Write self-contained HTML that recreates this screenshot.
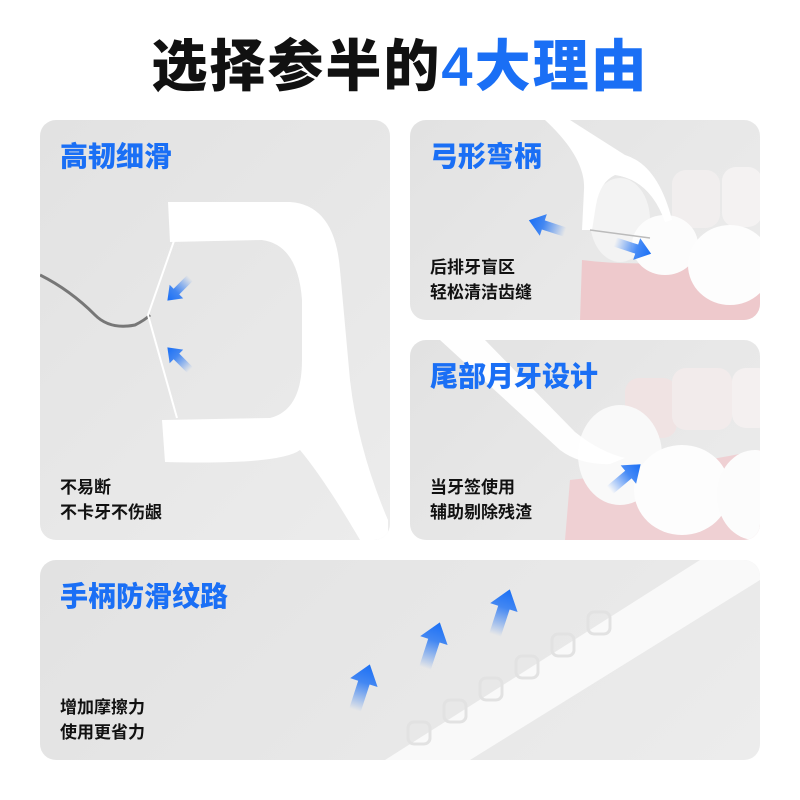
<!DOCTYPE html>
<html><head><meta charset="utf-8"><style>
body{margin:0;width:800px;height:800px;background:#fff;position:relative;overflow:hidden;font-family:"Liberation Sans","Noto Sans CJK SC",sans-serif}
.t{position:absolute;left:0;width:800px;top:32px;text-align:center;font-size:56px;font-weight:900;color:#111;letter-spacing:2px;line-height:70px}
.t span{color:#1a6ff5}
.p{position:absolute;border-radius:16px;background:linear-gradient(135deg,#e2e2e2,#ececec);overflow:hidden}
.h{position:absolute;font-size:28px;font-weight:900;color:#1a6ff5;line-height:34px;white-space:nowrap}
.s{position:absolute;font-size:17px;font-weight:700;color:#111;line-height:25px;white-space:nowrap}
svg{position:absolute;left:0;top:0}
</style></head><body>
<div class="t">选择参半的<span>4大理由</span></div>

<svg width="0" height="0" style="position:absolute">
<defs>
<linearGradient id="ga" x1="0" y1="0" x2="1" y2="0"><stop offset="0" stop-color="#1a6ff5" stop-opacity="0"/><stop offset=".6" stop-color="#1a6ff5" stop-opacity=".8"/><stop offset="1" stop-color="#1a6ff5"/></linearGradient>
<g id="arr"><path d="M0,-5 L24,-5 L24,-12 L40,0 L24,12 L24,5 L0,5Z" fill="url(#ga)"/></g>
</defs>
</svg>

<div class="p" style="left:40px;top:120px;width:350px;height:420px">
<svg width="350" height="420">
<path d="M0,155 Q30,170 55,195 Q70,210 95,205 Q105,200 110,195" stroke="#777" stroke-width="3" fill="none"/>
<path d="M135,118 L108,195 L137,298" stroke="#fff" stroke-width="2" fill="none"/>
<path d="M128,82 L250,82 Q295,85 300,150 L310,260 Q318,330 348,400 L348,420 L320,420 Q285,360 260,330 Q240,345 125,342 L122,300 L230,298 Q262,290 262,240 L262,180 Q258,125 222,120 L130,122 Z" fill="#fff"/>
<use href="#arr" transform="translate(150,158) rotate(135) scale(.8)"/>
<use href="#arr" transform="translate(150,250) rotate(-135) scale(.8)"/>
</svg>
<div class="h" style="left:20px;top:20px">高韧细滑</div>
<div class="s" style="left:20px;top:355px">不易断<br>不卡牙不伤龈</div>
</div>

<div class="p" style="left:410px;top:120px;width:350px;height:200px">
<svg width="350" height="200">
<path d="M170,200 L172,140 Q250,150 350,130 L350,200Z" fill="#eec9cc"/>
<rect x="262" y="50" width="48" height="58" rx="14" fill="#f1eeee"/>
<rect x="312" y="47" width="40" height="60" rx="14" fill="#f4f2f2"/>
<ellipse cx="210" cy="100" rx="30" ry="42" fill="#f3f3f3"/>
<ellipse cx="255" cy="125" rx="33" ry="30" fill="#fcfcfc"/>
<ellipse cx="320" cy="145" rx="42" ry="40" fill="#fdfdfd"/>
<path d="M135,0 L160,0 L215,35 Q248,45 262,100 L255,102 Q240,60 205,55 Q190,62 186,85 L182,110 L172,110 L174,70 Q176,38 135,0Z" fill="#fff"/>
<line x1="180" y1="110" x2="240" y2="118" stroke="#bbb" stroke-width="1.5"/>
<use href="#arr" transform="translate(155,112) rotate(198) scale(.95)"/>
<use href="#arr" transform="translate(205,122) rotate(18) scale(.95)"/>
</svg>
<div class="h" style="left:20px;top:20px">弓形弯柄</div>
<div class="s" style="left:20px;top:135px">后排牙盲区<br>轻松清洁齿缝</div>
</div>

<div class="p" style="left:410px;top:340px;width:350px;height:200px">
<svg width="350" height="200">
<path d="M155,200 L160,140 Q250,130 350,110 L350,200Z" fill="#efd0d3"/>
<rect x="215" y="38" width="52" height="60" rx="14" fill="#f0e3e3"/>
<rect x="262" y="28" width="60" height="62" rx="14" fill="#f2ebeb"/>
<rect x="322" y="28" width="40" height="60" rx="14" fill="#f4f0f0"/>
<ellipse cx="210" cy="115" rx="42" ry="50" fill="#f9f9f9"/>
<ellipse cx="272" cy="150" rx="48" ry="45" fill="#fdfdfd"/>
<ellipse cx="345" cy="155" rx="38" ry="45" fill="#fcfcfc"/>
<path d="M30,0 L75,0 L165,92 Q190,112 215,118 L200,124 Q170,125 150,110 Z" fill="#fff" opacity=".95"/>
<use href="#arr" transform="translate(200,150) rotate(-40) scale(1)"/>
</svg>
<div class="h" style="left:20px;top:20px">尾部月牙设计</div>
<div class="s" style="left:20px;top:135px">当牙签使用<br>辅助剔除残渣</div>
</div>

<div class="p" style="left:40px;top:560px;width:720px;height:200px">
<svg width="720" height="200">
<path d="M345,200 L660,0 L720,0 L720,20 L430,200Z" fill="#f9f9f9"/>
<g fill="none" stroke="#e2e2e2" stroke-width="3">
<rect x="548" y="52" width="22" height="22" rx="6"/><rect x="512" y="74" width="22" height="22" rx="6"/><rect x="476" y="96" width="22" height="22" rx="6"/><rect x="440" y="118" width="22" height="22" rx="6"/><rect x="404" y="140" width="22" height="22" rx="6"/><rect x="368" y="162" width="22" height="22" rx="6"/>
</g>
<use href="#arr" transform="translate(315,150) rotate(-72) scale(1.2)"/>
<use href="#arr" transform="translate(385,108) rotate(-72) scale(1.2)"/>
<use href="#arr" transform="translate(455,75) rotate(-72) scale(1.2)"/>
</svg>
<div class="h" style="left:20px;top:20px">手柄防滑纹路</div>
<div class="s" style="left:20px;top:135px">增加摩擦力<br>使用更省力</div>
</div>
</body></html>
